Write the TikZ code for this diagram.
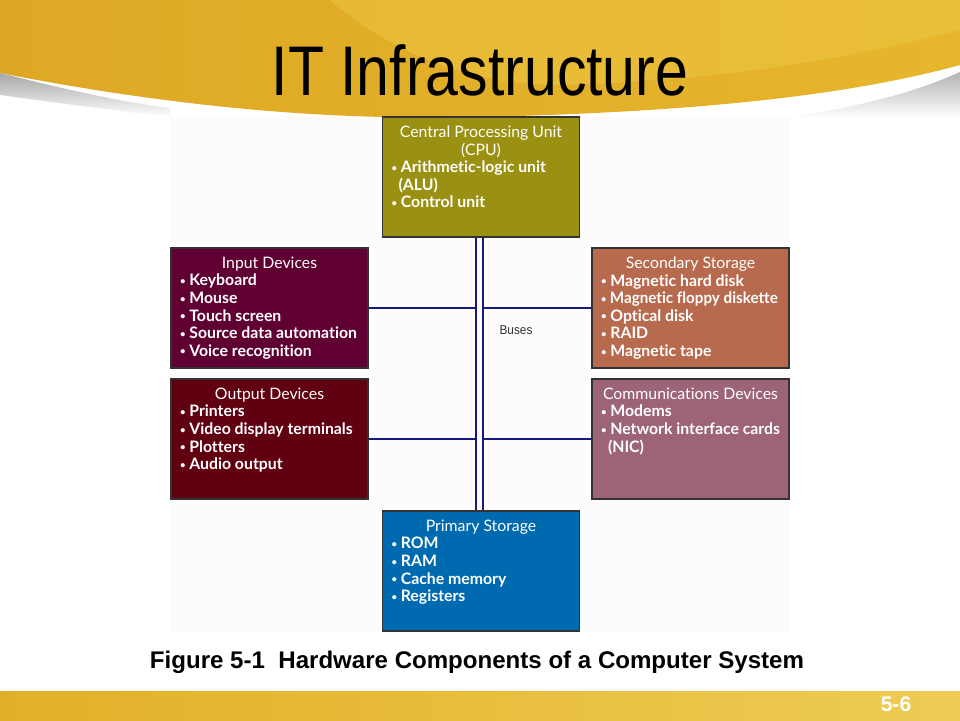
\documentclass[tikz,border=0pt]{standalone}
\usepackage{graphicx}
\usepackage{fontspec}
\setmainfont{Liberation Sans}
\newfontfamily\boxfont[Ligatures={NoCommon,NoRequired}]{Lato}

\definecolor{hdrdark}{RGB}{222,168,36}
\definecolor{hdrmid}{RGB}{230,182,44}
\definecolor{hdrlight}{RGB}{236,196,64}
\definecolor{ftrdark}{RGB}{226,176,40}
\definecolor{ftrlight}{RGB}{238,204,84}
\definecolor{cpucol}{RGB}{154,144,18}
\definecolor{incol}{RGB}{96,0,50}
\definecolor{outcol}{RGB}{96,0,16}
\definecolor{seccol}{RGB}{184,106,78}
\definecolor{comcol}{RGB}{156,100,118}
\definecolor{primcol}{RGB}{0,106,176}
\definecolor{busblue}{RGB}{24,24,128}

\newlength\px
\setlength\px{0.02cm}
\newcommand{\unitbody}[1]{\parbox[c][120\px][t]{179\px}{\vspace*{5pt}#1}}
\newcommand{\hd}[1]{{\centering #1\par}}
\newcommand{\bulletmark}{\raisebox{0.15ex}{\scalebox{0.6}{\textbullet}}}
\newcommand{\itm}[1]{\mbox{\textbf{\bulletmark\ #1}}\par}

\tikzset{
  unit/.style={draw=black!80, line width=0.6pt, inner xsep=9\px, inner ysep=0pt,
    text=white, font=\boxfont\fontsize{9}{10}\selectfont},
  bus/.style={draw=busblue, line width=0.8pt},
}

\begin{document}
\begin{tikzpicture}[x=0.02cm, y=-0.02cm]
\useasboundingbox (0,0) rectangle (960,720);
\fill[white] (0,0) rectangle (960,720);

% header band
\shade[left color=hdrdark, right color=hdrmid] (0,0) -- (960,0) -- (960,65)
  .. controls (850,95) and (700,112) .. (480,117)
  .. controls (350,120) and (200,112) .. (0,73) -- cycle;
\fill[hdrlight, opacity=0.6] (330,0) .. controls (400,60) and (480,85) .. (560,85)
  .. controls (750,80) and (880,50) .. (960,30) -- (960,0) -- cycle;
\shade[top color=black!35, bottom color=white] (0,73)
  .. controls (60,88) and (120,102) .. (170,108) -- (170,117)
  .. controls (110,110) and (50,102) .. (0,95) -- cycle;
\shade[top color=black!30, bottom color=white] (790,117)
  .. controls (870,105) and (920,90) .. (960,72) -- (960,118) -- cycle;

% footer band
\shade[left color=ftrdark, right color=ftrlight] (0,691) rectangle (960,720);

% figure panel
\fill[black!1] (170,117) rectangle (790,632);

\node[anchor=base, font=\fontsize{40}{40}\selectfont] (title) at (480,95)
  {\scalebox{0.84}[1]{IT Infrastructure}};

\node[unit, fill=cpucol] (cpu) at (481,177) {\unitbody{%
  \hd{Central Processing Unit}\hd{(CPU)}%
  \itm{Arithmetic-logic unit}\textbf{\hspace*{7\px}(ALU)}\par\itm{Control unit}}};
\node[unit, fill=incol] (in) at (269.5,308) {\unitbody{%
  \hd{Input Devices}\itm{Keyboard}\itm{Mouse}\itm{Touch screen}%
  \itm{Source data automation}\itm{Voice recognition}}};
\node[unit, fill=seccol] (sec) at (690.5,308) {\unitbody{%
  \hd{Secondary Storage}\itm{Magnetic hard disk}%
  \noindent\scalebox{0.96}[1]{\textbf{\bulletmark\ Magnetic floppy diskette}}\par
  \itm{Optical disk}\itm{RAID}\itm{Magnetic tape}}};
\node[unit, fill=outcol] (out) at (269.5,439) {\unitbody{%
  \hd{Output Devices}\itm{Printers}\itm{Video display terminals}%
  \itm{Plotters}\itm{Audio output}}};
\node[unit, fill=comcol] (com) at (690.5,439) {\unitbody{%
  \hd{Communications Devices}\itm{Modems}\itm{Network interface cards}%
  \textbf{\hspace*{7\px}(NIC)}\par}};
\node[unit, fill=primcol] (prim) at (481,571) {\unitbody{%
  \hd{Primary Storage}\itm{ROM}\itm{RAM}\itm{Cache memory}\itm{Registers}}};

% buses
\coordinate (busL) at (476,300);
\coordinate (busR) at (483,300);
\draw[bus] (cpu.south -| busL) -- (prim.north -| busL);
\draw[bus] (cpu.south -| busR) -- (prim.north -| busR);
\draw[bus] (in.east) -- (in.east -| busL);
\draw[bus] (out.east) -- (out.east -| busL);
\draw[bus] (sec.west) -- (sec.west -| busR);
\draw[bus] (com.west) -- (com.west -| busR);
\node[font=\fontsize{7.3}{8}\selectfont, text=black!80] (buslabel) at (516,330) {\scalebox{0.92}[1]{Buses}};

\node[anchor=base, font=\bfseries\fontsize{13.7}{14}\selectfont] (caption) at (477,668)
  {Figure 5-1\ \ Hardware Components of a Computer System};
\node[anchor=base, text=white, font=\bfseries\fontsize{12}{12}\selectfont] (page) at (896,711) {5-6};
\end{tikzpicture}
\end{document}
